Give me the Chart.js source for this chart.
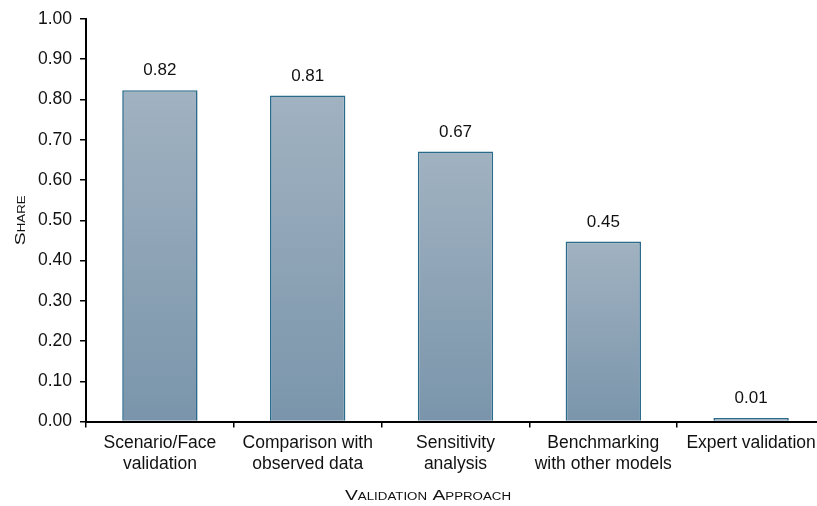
<!DOCTYPE html>
<html>
<head>
<meta charset="utf-8">
<script src="https://cdn.jsdelivr.net/npm/chart.js@4/dist/chart.umd.min.js"></script>
<style>
  html, body { margin: 0; padding: 0; background: #fff; overflow: hidden; }
  #wrap { width: 830px; height: 506px; }
</style>
</head>
<body>
<div id="wrap"><canvas id="c" width="830" height="506"></canvas></div>
<script>
const categories = [
  ["Scenario/Face", "validation"],
  ["Comparison with", "observed data"],
  ["Sensitivity", "analysis"],
  ["Benchmarking", "with other models"],
  ["Expert validation"]
];
const shareValues = [0.823, 0.81, 0.671, 0.447, 0.009];
const valueLabels = ["0.82", "0.81", "0.67", "0.45", "0.01"];
const yAxisTitle = "Share";
const xAxisTitle = "Validation Approach";

const FONT = "'Liberation Sans', Arial, sans-serif";

function barGradient(ctx) {
  const chart = ctx.chart;
  const area = chart.chartArea;
  if (!area || ctx.type !== 'data') return '#8ea4b7';
  const ys = chart.scales.y;
  const top = ys.getPixelForValue(ctx.raw);
  const bottom = ys.getPixelForValue(0);
  const g = chart.ctx.createLinearGradient(0, top, 0, bottom);
  g.addColorStop(0, '#a1b2c1');
  g.addColorStop(1, '#7a95ab');
  return g;
}

const labelPlugin = {
  id: 'valueLabels',
  afterDatasetsDraw(chart) {
    const ctx = chart.ctx;
    const meta = chart.getDatasetMeta(0);
    ctx.save();
    ctx.font = "17px " + FONT;
    ctx.fillStyle = '#111';
    ctx.textAlign = 'center';
    ctx.textBaseline = 'bottom';
    meta.data.forEach((el, i) => {
      ctx.fillText(valueLabels[i], el.x, el.y - 11);
    });
    ctx.restore();
  }
};

const titlePlugin = {
  id: 'axisTitles',
  afterDraw(chart) {
    const ctx = chart.ctx;
    const a = chart.chartArea;
    ctx.save();
    ctx.fillStyle = '#111';
    ctx.font = "small-caps 14.5px " + FONT;
    ctx.textAlign = 'center';
    ctx.textBaseline = 'middle';
    ctx.save();
    ctx.translate(428, 496);
    ctx.scale(1.33, 1);
    ctx.fillText(xAxisTitle, 0, 0);
    ctx.restore();
    ctx.translate(21, (a.top + a.bottom) / 2);
    ctx.rotate(-Math.PI / 2);
    ctx.scale(1.33, 1);
    ctx.fillText(yAxisTitle, 0, 0);
    ctx.restore();
  }
};

new Chart(document.getElementById('c'), {
  type: 'bar',
  data: {
    labels: categories,
    datasets: [{
      data: shareValues,
      backgroundColor: barGradient,
      borderColor: '#2a6a8b',
      borderWidth: 1.6,
      barPercentage: 0.51,
      categoryPercentage: 1.0
    }]
  },
  options: {
    responsive: false,
    animation: false,
    devicePixelRatio: 1,
    layout: { padding: { top: 19, right: 5, left: 0, bottom: 0 } },
    plugins: { legend: { display: false }, tooltip: { enabled: false } },
    scales: {
      x: {
        afterFit(s) { s.height = 84.5; },
        grid: { drawOnChartArea: false, drawTicks: true, tickLength: 6, color: '#000', lineWidth: 1.5, offset: true },
        border: { display: true, color: '#000', width: 2 },
        ticks: { color: '#111', font: { family: FONT, size: 17.5, lineHeight: 1.2 }, padding: 5, maxRotation: 0, autoSkip: false }
      },
      y: {
        min: 0, max: 1,
        afterFit(s) { s.width = 86; },
        grid: { drawOnChartArea: false, drawTicks: true, tickLength: 6, color: '#000', lineWidth: 1.5 },
        border: { display: true, color: '#000', width: 2 },
        ticks: { stepSize: 0.1, color: '#111', font: { family: FONT, size: 17.5 }, padding: 8,
                 callback: v => Number(v).toFixed(2) }
      }
    }
  },
  plugins: [labelPlugin, titlePlugin]
});
</script>
</body>
</html>
